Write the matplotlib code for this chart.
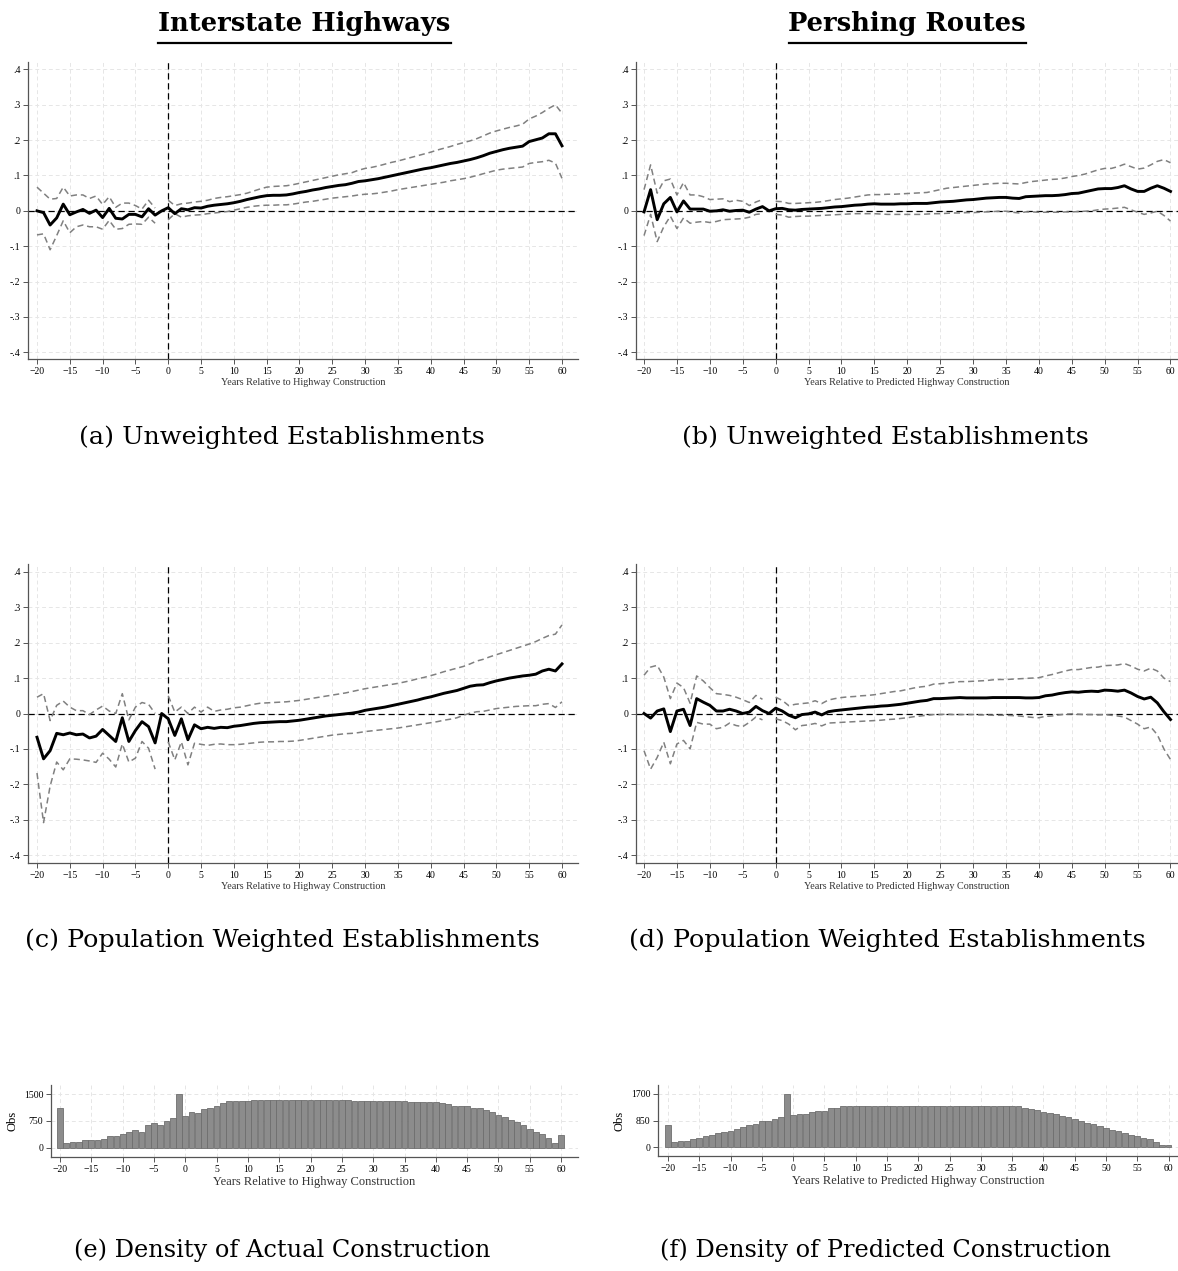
import numpy as np
import matplotlib
matplotlib.use("Agg")
import matplotlib.pyplot as plt
from matplotlib.lines import Line2D

matplotlib.rcParams['font.family'] = ['Liberation Serif']

years = np.arange(-20, 61)
nan = np.nan

# (a) interstate, unweighted
a_est = [0, -0.005, -0.04, -0.02, 0.019, -0.011, -0.003, 0.004, -0.007, 0.002, -0.019, 0.007, -0.021, -0.023, -0.01, -0.01, -0.017, 0.006, -0.012, 0,
         0.009, -0.008, 0.006, 0.003, 0.009, 0.008, 0.013, 0.016, 0.018, 0.02, 0.023, 0.027, 0.032, 0.036, 0.04, 0.043, 0.044, 0.044, 0.045, 0.048,
         0.052, 0.055, 0.059, 0.062, 0.066, 0.069, 0.072, 0.074, 0.078, 0.083, 0.085, 0.088, 0.091, 0.095, 0.099, 0.103, 0.107, 0.111, 0.115, 0.119,
         0.122, 0.126, 0.13, 0.134, 0.137, 0.141, 0.145, 0.15, 0.156, 0.163, 0.168, 0.173, 0.177, 0.18, 0.183, 0.196, 0.201, 0.206, 0.218, 0.218, 0.184]
a_hi = [0.067, 0.05, 0.033, 0.035, 0.067, 0.042, 0.045, 0.045, 0.035, 0.042, 0.018, 0.04, 0.01, 0.022, 0.022, 0.015, 0.005, 0.03, 0.008, nan,
        0.03, 0.015, 0.02, 0.022, 0.025, 0.027, 0.03, 0.035, 0.038, 0.04, 0.043, 0.046, 0.05, 0.056, 0.062, 0.067, 0.069, 0.07, 0.071, 0.074,
        0.078, 0.082, 0.086, 0.09, 0.094, 0.098, 0.102, 0.105, 0.108, 0.115, 0.12, 0.123, 0.127, 0.132, 0.137, 0.141, 0.146, 0.151, 0.156, 0.161,
        0.166, 0.172, 0.177, 0.182, 0.188, 0.193, 0.198, 0.204, 0.212, 0.22, 0.226, 0.231, 0.236, 0.24, 0.245, 0.26, 0.268, 0.278, 0.29, 0.3, 0.276]
a_lo = [-0.068, -0.065, -0.11, -0.07, -0.028, -0.062, -0.045, -0.04, -0.045, -0.045, -0.052, -0.027, -0.052, -0.05, -0.038, -0.037, -0.038, -0.018, -0.035, nan,
        -0.025, -0.008, -0.018, -0.014, -0.012, -0.011, -0.008, -0.006, -0.004, -0.002, 0.002, 0.006, 0.01, 0.013, 0.015, 0.016, 0.016, 0.017, 0.017, 0.019,
        0.022, 0.025, 0.027, 0.03, 0.033, 0.036, 0.038, 0.04, 0.042, 0.045, 0.047, 0.048, 0.05, 0.053, 0.056, 0.06, 0.063, 0.066, 0.069, 0.072,
        0.075, 0.078, 0.081, 0.085, 0.088, 0.091, 0.095, 0.1, 0.105, 0.11, 0.115, 0.118, 0.12, 0.122, 0.124, 0.134, 0.137, 0.139, 0.143, 0.135, 0.092]

# (b) pershing, unweighted
b_est = [-0.003, 0.06, -0.025, 0.02, 0.038, -0.003, 0.028, 0.005, 0.005, 0.005, -0.001, 0, 0.003, -0.001, 0.001, 0.002, -0.004, 0.005, 0.012, 0,
         0.006, 0.007, 0.003, 0.002, 0.004, 0.005, 0.006, 0.007, 0.009, 0.011, 0.012, 0.014, 0.016, 0.017, 0.019, 0.02, 0.019, 0.019, 0.019, 0.02,
         0.02, 0.021, 0.021, 0.021, 0.023, 0.025, 0.026, 0.027, 0.029, 0.031, 0.032, 0.034, 0.036, 0.037, 0.038, 0.038, 0.036, 0.035, 0.04, 0.041,
         0.042, 0.043, 0.043, 0.044, 0.046, 0.049, 0.05, 0.054, 0.058, 0.062, 0.063, 0.063, 0.066, 0.071, 0.062, 0.055, 0.055, 0.064, 0.071, 0.064, 0.055]
b_hi = [0.06, 0.13, 0.05, 0.085, 0.09, 0.045, 0.08, 0.045, 0.045, 0.04, 0.032, 0.033, 0.034, 0.026, 0.03, 0.027, 0.015, 0.025, 0.032, nan,
        0.027, 0.026, 0.021, 0.021, 0.022, 0.023, 0.024, 0.026, 0.029, 0.032, 0.034, 0.036, 0.039, 0.042, 0.045, 0.046, 0.046, 0.047, 0.047, 0.048,
        0.049, 0.05, 0.051, 0.052, 0.056, 0.06, 0.064, 0.066, 0.068, 0.07, 0.072, 0.074, 0.076, 0.077, 0.078, 0.078, 0.077, 0.076, 0.08, 0.083,
        0.085, 0.087, 0.089, 0.09, 0.093, 0.097, 0.1, 0.104, 0.11, 0.116, 0.12, 0.12, 0.125, 0.132, 0.125, 0.118, 0.121, 0.13, 0.14, 0.145, 0.136]
b_lo = [-0.07, -0.01, -0.087, -0.045, -0.015, -0.05, -0.02, -0.035, -0.032, -0.03, -0.033, -0.03, -0.025, -0.024, -0.023, -0.022, -0.018, -0.01, -0.008, nan,
        -0.01, -0.012, -0.018, -0.016, -0.015, -0.015, -0.014, -0.013, -0.012, -0.011, -0.01, -0.009, -0.008, -0.008, -0.008, -0.008, -0.009, -0.01, -0.01, -0.01,
        -0.01, -0.01, -0.01, -0.009, -0.008, -0.008, -0.007, -0.006, -0.006, -0.005, -0.005, -0.004, -0.003, -0.002, -0.001, -0.001, -0.004, -0.006, -0.003, -0.003,
        -0.004, -0.004, -0.004, -0.004, -0.003, -0.003, -0.002, -0.001, 0, 0.003, 0.005, 0.006, 0.008, 0.01, 0.003, -0.004, -0.01, -0.006, -0.001, -0.013, -0.029]

# (c) interstate, population weighted
c_est = [-0.067, -0.128, -0.105, -0.056, -0.06, -0.055, -0.06, -0.058, -0.069, -0.064, -0.045, -0.062, -0.079, -0.012, -0.079, -0.048, -0.023, -0.037, -0.083, 0,
         -0.015, -0.062, -0.015, -0.074, -0.032, -0.043, -0.039, -0.042, -0.039, -0.04, -0.036, -0.034, -0.031, -0.028, -0.026, -0.025, -0.024, -0.023, -0.023, -0.021,
         -0.019, -0.016, -0.013, -0.01, -0.007, -0.005, -0.003, -0.001, 0.001, 0.004, 0.009, 0.012, 0.015, 0.018, 0.022, 0.026, 0.03, 0.034, 0.038, 0.043,
         0.047, 0.052, 0.057, 0.061, 0.065, 0.071, 0.077, 0.08, 0.081, 0.087, 0.092, 0.096, 0.1, 0.103, 0.106, 0.108, 0.111, 0.12, 0.125, 0.12, 0.14]
c_hi = [0.046, 0.056, -0.02, 0.023, 0.035, 0.018, 0.008, 0.008, -0.003, 0.01, 0.021, 0.007, 0, 0.056, -0.018, 0.018, 0.031, 0.026, 0, nan,
        0.05, 0.004, 0.018, 0, 0.018, 0.004, 0.018, 0.006, 0.01, 0.012, 0.016, 0.018, 0.022, 0.026, 0.029, 0.03, 0.031, 0.032, 0.033, 0.035,
        0.037, 0.04, 0.043, 0.046, 0.049, 0.052, 0.055, 0.058, 0.062, 0.066, 0.07, 0.073, 0.076, 0.079, 0.082, 0.085, 0.089, 0.093, 0.098, 0.102,
        0.107, 0.112, 0.118, 0.123, 0.128, 0.133, 0.14, 0.148, 0.153, 0.16, 0.166, 0.172, 0.178, 0.184, 0.19, 0.196, 0.203, 0.212, 0.22, 0.224, 0.25]
c_lo = [-0.168, -0.308, -0.205, -0.137, -0.159, -0.128, -0.129, -0.131, -0.134, -0.138, -0.112, -0.129, -0.151, -0.086, -0.137, -0.126, -0.079, -0.098, -0.157, nan,
        -0.08, -0.131, -0.08, -0.145, -0.084, -0.087, -0.09, -0.087, -0.086, -0.088, -0.088, -0.087, -0.085, -0.083, -0.081, -0.08, -0.08, -0.079, -0.079, -0.078,
        -0.076, -0.073, -0.07, -0.067, -0.064, -0.061, -0.059, -0.057, -0.056, -0.054, -0.051, -0.049, -0.047, -0.045, -0.043, -0.041, -0.038, -0.035, -0.032, -0.029,
        -0.026, -0.023, -0.019, -0.016, -0.012, -0.005, 0.001, 0.005, 0.006, 0.01, 0.014, 0.016, 0.018, 0.02, 0.021, 0.022, 0.022, 0.026, 0.028, 0.017, 0.033]

# (d) pershing, population weighted
d_est = [0, -0.013, 0.007, 0.013, -0.051, 0.007, 0.012, -0.034, 0.042, 0.032, 0.023, 0.007, 0.007, 0.012, 0.007, 0, 0.004, 0.02, 0.008, 0,
         0.015, 0.007, -0.005, -0.012, -0.003, -0.001, 0.004, -0.004, 0.005, 0.008, 0.01, 0.012, 0.014, 0.016, 0.018, 0.019, 0.021, 0.022, 0.024, 0.026,
         0.029, 0.032, 0.035, 0.037, 0.042, 0.042, 0.043, 0.044, 0.045, 0.044, 0.044, 0.044, 0.044, 0.045, 0.045, 0.045, 0.045, 0.045, 0.044, 0.044,
         0.045, 0.05, 0.052, 0.056, 0.059, 0.061, 0.06, 0.062, 0.063, 0.062, 0.066, 0.065, 0.063, 0.066, 0.058, 0.048, 0.041, 0.046, 0.03, 0.005, -0.017]
d_hi = [0.108, 0.131, 0.136, 0.103, 0.042, 0.086, 0.073, 0.029, 0.106, 0.092, 0.073, 0.056, 0.054, 0.051, 0.046, 0.039, 0.031, 0.051, 0.04, nan,
        0.046, 0.037, 0.022, 0.026, 0.028, 0.03, 0.036, 0.028, 0.038, 0.042, 0.045, 0.047, 0.048, 0.05, 0.051, 0.053, 0.056, 0.059, 0.062, 0.064,
        0.068, 0.072, 0.075, 0.077, 0.083, 0.084, 0.086, 0.088, 0.09, 0.09, 0.091, 0.092, 0.093, 0.095, 0.096, 0.096, 0.097, 0.098, 0.099, 0.1,
        0.101, 0.106, 0.11, 0.115, 0.12, 0.124, 0.124, 0.127, 0.13, 0.131, 0.135, 0.136, 0.137, 0.141, 0.134, 0.125, 0.12, 0.128, 0.12, 0.1, 0.09]
d_lo = [-0.105, -0.157, -0.124, -0.081, -0.142, -0.086, -0.076, -0.1, -0.025, -0.03, -0.03, -0.043, -0.039, -0.027, -0.034, -0.037, -0.025, -0.01, -0.018, nan,
        -0.015, -0.02, -0.03, -0.046, -0.034, -0.032, -0.028, -0.035, -0.027, -0.026, -0.025, -0.024, -0.023, -0.022, -0.021, -0.02, -0.019, -0.017, -0.016, -0.014,
        -0.012, -0.009, -0.007, -0.005, -0.003, -0.003, -0.002, -0.003, -0.003, -0.003, -0.003, -0.004, -0.004, -0.005, -0.005, -0.005, -0.006, -0.007, -0.009, -0.011,
        -0.012, -0.008, -0.007, -0.004, -0.002, -0.001, -0.002, -0.003, -0.003, -0.004, -0.003, -0.005, -0.007, -0.01, -0.02, -0.03, -0.043, -0.038, -0.06, -0.1, -0.13]

# densities (obs per year)
e_obs = [1110, 130, 160, 160, 215, 235, 235, 260, 330, 320, 400, 455, 495, 450, 630, 700, 650, 755, 840, 1500,
         895, 1005, 960, 1070, 1120, 1175, 1240, 1295, 1315, 1315, 1315, 1330,
         1340, 1340, 1340, 1340, 1340, 1340, 1340, 1340, 1340, 1340, 1340, 1340, 1340, 1340,
         1325, 1315, 1315, 1315, 1315, 1300, 1300, 1300, 1300, 1300, 1285, 1275, 1275, 1275,
         1265, 1250, 1220, 1175, 1165, 1165, 1125, 1100, 1055, 1005, 930, 865, 790, 725, 650, 540, 450, 380, 290, 150, 355]
f_obs = [720, 160, 210, 210, 245, 295, 350, 380, 455, 485, 530, 580, 645, 710, 750, 835, 845, 910, 960, 1700,
         1035, 1065, 1065, 1120, 1140, 1150, 1245, 1255] + [1300] * 29 + \
        [1255, 1215, 1170, 1110, 1090, 1055, 1005, 950, 900, 845, 770, 730, 665, 610, 560, 505, 455, 400, 350, 275, 245, 170, 75, 55]

W, H = 1178, 1271
fig = plt.figure(figsize=(W / 100, H / 100), dpi=100)


def px_axes(l, t, r, b):
    return fig.add_axes([l / W, 1 - b / H, (r - l) / W, (b - t) / H])


def style(ax, xlim, ylim, yticks, ylabels, xlabel, fs_tick, fs_lab):
    ax.set_xlim(*xlim)
    ax.set_ylim(*ylim)
    ax.set_xticks(np.arange(-20, 61, 5))
    ax.set_yticks(yticks)
    ax.set_yticklabels(ylabels)
    for s in ['top', 'right']:
        ax.spines[s].set_visible(False)
    for s in ['left', 'bottom']:
        ax.spines[s].set_color('#555555')
        ax.spines[s].set_linewidth(0.9)
    ax.tick_params(direction='out', length=3.5, width=0.7, color='#555555',
                   labelsize=fs_tick, pad=2)
    ax.grid(True, color='#e6e6e6', linestyle=(0, (4, 3)), linewidth=0.7)
    ax.set_axisbelow(True)
    ax.set_xlabel(xlabel, fontsize=fs_lab, labelpad=2, color='#333333')


ylim_ev = [-0.4, -0.3, -0.2, -0.1, 0, 0.1, 0.2, 0.3, 0.4]
ylab_ev = ['-.4', '-.3', '-.2', '-.1', '0', '.1', '.2', '.3', '.4']

panels = [
    ((28, 62, 578, 359), (-21.37, 62.44), (-0.419, 0.421), a_est, a_hi, a_lo, 'Years Relative to Highway Construction'),
    ((636, 62, 1178, 359), (-21.22, 61.14), (-0.419, 0.421), b_est, b_hi, b_lo, 'Years Relative to Predicted Highway Construction'),
    ((28, 564, 578, 863), (-21.37, 62.44), (-0.422, 0.422), c_est, c_hi, c_lo, 'Years Relative to Highway Construction'),
    ((636, 564, 1178, 863), (-21.22, 61.14), (-0.422, 0.422), d_est, d_hi, d_lo, 'Years Relative to Predicted Highway Construction'),
]

for box, xl, yl, est, hi, lo, xlab in panels:
    ax = px_axes(*box)
    style(ax, xl, yl, ylim_ev, ylab_ev, xlab, 7, 7.3)
    ax.axhline(0, color='black', linestyle=(0, (5, 3)), linewidth=0.9, zorder=2)
    ax.axvline(0, color='black', linestyle=(0, (5, 3)), linewidth=0.9, zorder=2)
    ax.plot(years, hi, color='#808080', linestyle=(0, (4, 2.5)), linewidth=1.1, zorder=3)
    ax.plot(years, lo, color='#808080', linestyle=(0, (4, 2.5)), linewidth=1.1, zorder=3)
    ax.plot(years, est, color='black', linewidth=2.1, zorder=4)

hists = [
    ((51, 1085, 578, 1157), (-21.44, 62.7), (-251, 1751), e_obs, [0, 750, 1500], 'Years Relative to Highway Construction'),
    ((658, 1085, 1178, 1156), (-21.6, 61.5), (-285, 1985), f_obs, [0, 850, 1700], 'Years Relative to Predicted Highway Construction'),
]
for box, xl, yl, obs, yt, xlab in hists:
    ax = px_axes(*box)
    style(ax, xl, yl, yt, [str(v) for v in yt], xlab, 7, 9)
    ax.bar(years, obs, width=0.92, color='#8c8c8c', edgecolor='#6e6e6e', linewidth=0.6, zorder=3)
    ax.set_ylabel('Obs', fontsize=9, labelpad=4)

# column titles with underline
for cx, title, x0, x1 in [(304, 'Interstate Highways', 158, 451), (907, 'Pershing Routes', 789, 1026)]:
    fig.text(cx / W, 1 - 23 / H, title, ha='center', va='center', fontsize=18.5,
             fontweight='bold', family='DejaVu Serif')
    fig.add_artist(Line2D([x0 / W, x1 / W], [1 - 43 / H, 1 - 43 / H], color='black', linewidth=1.6))

caps = [(282, 437, '(a) Unweighted Establishments', 18.3), (885, 437, '(b) Unweighted Establishments', 18.3),
        (282, 940, '(c) Population Weighted Establishments', 18.3), (887, 940, '(d) Population Weighted Establishments', 18.3),
        (282, 1250, '(e) Density of Actual Construction', 17.3), (885, 1250, '(f) Density of Predicted Construction', 17.3)]
for cx, cy, s, fs in caps:
    fig.text(cx / W, 1 - cy / H, s, ha='center', va='center', fontsize=fs, family='DejaVu Serif')

fig.savefig('out.png', dpi=100)
